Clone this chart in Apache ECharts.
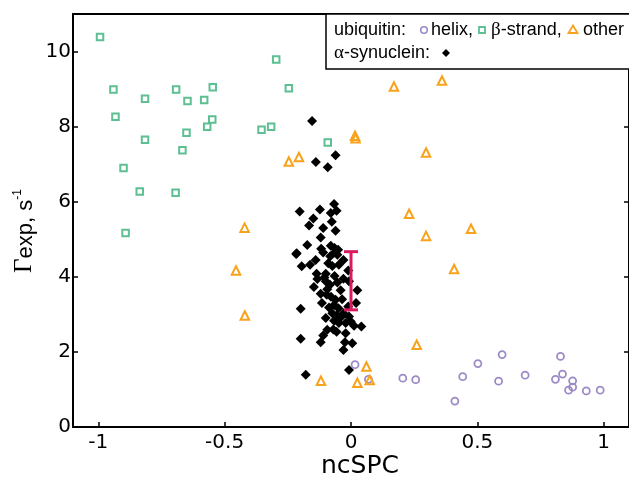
<!DOCTYPE html>
<html>
<head>
<meta charset="utf-8">
<script src="https://cdn.jsdelivr.net/npm/echarts@6/dist/echarts.min.js"></script>
<style>html,body{margin:0;padding:0;background:#fff;}#c{width:629px;height:484px;}</style>
</head>
<body>
<div id="c"></div>
<script>
// ---- data ----
const xTicks = [-1, -0.5, 0, 0.5, 1];
const xTickLabels = ['-1', '-0.5', '0', '0.5', '1'];
const yTicks = [0, 2, 4, 6, 8, 10];
const yTickLabels = ['0', '2', '4', '6', '8', '10'];

const helix = [[0.016,1.66],[0.069,1.27],[0.205,1.30],[0.256,1.26],[0.411,0.69],[0.442,1.34],[0.502,1.69],[0.584,1.22],[0.598,1.93],[0.689,1.38],[0.809,1.27],[0.829,1.88],[0.837,1.41],[0.877,1.23],[0.877,1.06],[0.861,0.98],[0.931,0.96],[0.986,0.98]];

const strand = [[-0.993,10.39],[-0.940,8.99],[-0.932,8.26],[-0.815,8.74],[-0.815,7.65],[-0.900,6.90],[-0.836,6.27],[-0.892,5.17],[-0.692,8.99],[-0.647,8.68],[-0.651,7.84],[-0.667,7.37],[-0.694,6.24],[-0.581,8.71],[-0.547,9.05],[-0.549,8.19],[-0.569,8.00],[-0.354,7.92],[-0.316,8.00],[-0.296,9.79],[-0.246,9.02],[-0.092,7.58]];

const other = [[-0.421,5.31],[-0.455,4.17],[-0.420,2.97],[-0.246,7.07],[-0.206,7.19],[0.016,7.76],[0.018,7.69],[0.170,9.07],[0.360,9.23],[0.297,7.31],[0.230,5.68],[0.297,5.09],[0.475,5.28],[0.408,4.21],[0.260,2.19],[-0.119,1.23],[0.061,1.61],[0.025,1.18],[0.074,1.25]];

const synuclein = [[-0.154,8.15],[-0.061,7.24],[-0.139,7.06],[-0.092,6.92],
[-0.203,5.74],[-0.123,5.79],[-0.067,5.94],[-0.057,5.76],[-0.080,5.70],[-0.149,5.55],[-0.166,5.37],[-0.076,5.47],[-0.110,5.30],[-0.061,5.23],[-0.120,5.05],[-0.173,4.85],[-0.215,4.63],[-0.118,4.75],[-0.080,4.83],[-0.065,4.77],[-0.051,4.72],
[-0.217,4.61],[-0.110,4.65],[-0.065,4.65],[-0.054,4.59],[-0.195,4.28],[-0.162,4.32],[-0.090,4.36],[-0.074,4.29],[-0.048,4.32],[-0.136,4.08],[-0.100,4.08],[-0.011,4.17],[-0.133,3.94],[-0.147,3.73],[-0.100,3.88],[-0.083,3.79],[-0.054,3.85],[-0.008,3.88],[0.025,3.64],[-0.094,3.67],[-0.041,3.64],[-0.096,3.52],
[-0.079,3.47],[-0.199,3.15],[-0.087,3.18],[-0.067,3.25],[-0.050,3.16],[-0.011,3.21],[-0.074,3.03],[-0.057,2.97],[-0.030,3.03],[-0.067,2.83],[-0.048,2.77],[-0.021,2.77],[-0.001,2.81],[0.012,2.70],[0.041,2.68],[-0.094,2.59],[-0.057,2.54],[-0.021,2.50],[-0.199,2.35],[-0.110,2.44],[-0.120,2.26],[-0.024,2.26],[0.005,2.23],[-0.030,2.05],[-0.008,1.52],[-0.179,1.39],
[-0.061,3.39],[-0.008,2.94],[-0.035,3.40],[-0.105,3.98],[-0.082,4.55],[-0.140,4.45],[-0.030,3.95],[-0.065,4.02],[-0.115,3.30],[-0.040,2.92],[-0.100,2.90],[-0.070,2.60],[0.020,3.30],[-0.120,3.55],[-0.030,4.45]];

const errorBar = [[0, 3.12, 4.67]];

// ---- chart ----
const chart = echarts.init(document.getElementById('c'), null, {renderer: 'canvas'});
const axisLineStyle = {color: '#000', width: 2};
const tickStyle = {color: '#000', width: 1.5};
const green = '#5dbf92', purple = '#9d8ac6', orange = '#f9a21b', pink = '#d81b60';

const legendFont = '"Liberation Sans", Arial, sans-serif';
const serif = '"Liberation Serif", "Times New Roman", serif';

const option = {
  animation: false,
  backgroundColor: '#fff',
  grid: {left: 73, right: 0, top: 14, bottom: 57, containLabel: false, outerBoundsMode: 'none'},
  xAxis: [{
    type: 'value', min: -1.1, max: 1.1, position: 'bottom',
    axisLine: {show: true, onZero: false, lineStyle: axisLineStyle},
    axisTick: {show: true, inside: true, length: 5, lineStyle: tickStyle, customValues: xTicks},
    axisLabel: {show: true, customValues: xTicks, margin: 6, fontSize: 20, fontFamily: 'DejaVu Sans', color: '#000',
      formatter: v => xTickLabels[xTicks.findIndex(t => Math.abs(t - v) < 1e-9)] ?? ''},
    splitLine: {show: false}
  }, {
    type: 'value', min: -1.1, max: 1.1, position: 'top',
    axisLine: {show: true, onZero: false, lineStyle: axisLineStyle},
    axisTick: {show: false}, axisLabel: {show: false}, splitLine: {show: false}
  }],
  yAxis: [{
    type: 'value', min: 0, max: 11, position: 'left',
    axisLine: {show: true, onZero: false, lineStyle: axisLineStyle},
    axisTick: {show: true, inside: true, length: 5, lineStyle: tickStyle, customValues: yTicks},
    axisLabel: {show: true, customValues: yTicks, margin: 2, fontSize: 20, fontFamily: 'DejaVu Sans', color: '#000',
      formatter: v => yTickLabels[yTicks.findIndex(t => Math.abs(t - v) < 1e-9)] ?? ''},
    splitLine: {show: false}
  }, {
    type: 'value', min: 0, max: 11, position: 'right',
    axisLine: {show: true, onZero: false, lineStyle: axisLineStyle},
    axisTick: {show: true, inside: true, length: 5, lineStyle: tickStyle, customValues: yTicks},
    axisLabel: {show: false}, splitLine: {show: false}
  }],
  series: [
    {type: 'scatter', name: 'helix', data: helix, symbol: 'circle', symbolSize: 7,
      itemStyle: {color: 'rgba(0,0,0,0)', borderColor: purple, borderWidth: 1.8, opacity: 1}},
    {type: 'scatter', name: 'strand', data: strand, symbol: 'rect', symbolSize: 6.5,
      itemStyle: {color: 'rgba(0,0,0,0)', borderColor: green, borderWidth: 2, opacity: 1}},
    {type: 'scatter', name: 'other', data: other, symbol: 'triangle', symbolSize: 8.5,
      itemStyle: {color: 'rgba(0,0,0,0)', borderColor: orange, borderWidth: 2, opacity: 1}},
    {type: 'scatter', name: 'synuclein', data: synuclein, symbol: 'diamond', symbolSize: 10,
      itemStyle: {color: '#000', opacity: 1}},
    {type: 'custom', name: 'err', data: errorBar, z: 10,
      renderItem: function (params, api) {
        const x = api.value(0), lo = api.value(1), hi = api.value(2);
        const p1 = api.coord([x, lo]), p2 = api.coord([x, hi]);
        const w = 7;
        const st = {stroke: pink, lineWidth: 3, fill: null};
        return {type: 'group', children: [
          {type: 'line', shape: {x1: p1[0], y1: p1[1], x2: p2[0], y2: p2[1]}, style: st},
          {type: 'line', shape: {x1: p1[0] - w, y1: p1[1], x2: p1[0] + w, y2: p1[1]}, style: st},
          {type: 'line', shape: {x1: p2[0] - w, y1: p2[1], x2: p2[0] + w, y2: p2[1]}, style: st}
        ]};
      }
    }
  ],
  graphic: [
    // legend box
    {type: 'rect', shape: {x: 326, y: 14, width: 310, height: 55}, style: {fill: '#fff', stroke: '#000', lineWidth: 1.5}, z: 100},
    {type: 'text', x: 334, y: 30, z: 101, style: {text: 'ubiquitin:', font: '18px ' + legendFont, fill: '#000', textVerticalAlign: 'middle'}},
    {type: 'circle', shape: {cx: 424, cy: 30, r: 3.3}, style: {fill: 'none', stroke: purple, lineWidth: 1.6}, z: 101},
    {type: 'text', x: 431, y: 30, z: 101, style: {text: 'helix,', font: '18px ' + legendFont, fill: '#000', textVerticalAlign: 'middle'}},
    {type: 'rect', shape: {x: 479, y: 27, width: 6, height: 6}, style: {fill: 'none', stroke: green, lineWidth: 1.8}, z: 101},
    {type: 'text', x: 491, y: 30, z: 101, style: {
      text: '{g|β}-strand,', font: '18px ' + legendFont, fill: '#000', textVerticalAlign: 'middle',
      rich: {g: {fontFamily: serif, fontSize: 19, fill: '#000'}}}},
    {type: 'polygon', shape: {points: [[573, 25.5], [577.5, 33], [568.5, 33]]}, style: {fill: 'none', stroke: orange, lineWidth: 1.8}, z: 101},
    {type: 'text', x: 583, y: 30, z: 101, style: {text: 'other', font: '18px ' + legendFont, fill: '#000', textVerticalAlign: 'middle'}},
    {type: 'text', x: 334, y: 53, z: 101, style: {
      text: '{g|α}-synuclein:', font: '18px ' + legendFont, fill: '#000', textVerticalAlign: 'middle',
      rich: {g: {fontFamily: serif, fontSize: 19, fill: '#000'}}}},
    {type: 'polygon', shape: {points: [[446, 49], [450, 53], [446, 57], [442, 53]]}, style: {fill: '#000'}, z: 101},
    // axis titles
    {type: 'text', x: 360, y: 466, style: {text: 'ncSPC', font: '25px "DejaVu Sans"', fill: '#000', textAlign: 'center', textVerticalAlign: 'middle'}},
    {type: 'text', x: 24, y: 231, rotation: Math.PI / 2, style: {
      text: '{g|Γ}{n|exp, s}{s|-1}', textAlign: 'center', textVerticalAlign: 'middle', fill: '#000',
      rich: {
        g: {fontFamily: serif, fontSize: 25, fill: '#000', verticalAlign: 'bottom'},
        n: {fontFamily: legendFont, fontSize: 22, fill: '#000', verticalAlign: 'bottom'},
        s: {fontFamily: legendFont, fontSize: 12, fill: '#000', verticalAlign: 'top'}
      }}}
  ]
};
chart.setOption(option);
</script>
</body>
</html>
